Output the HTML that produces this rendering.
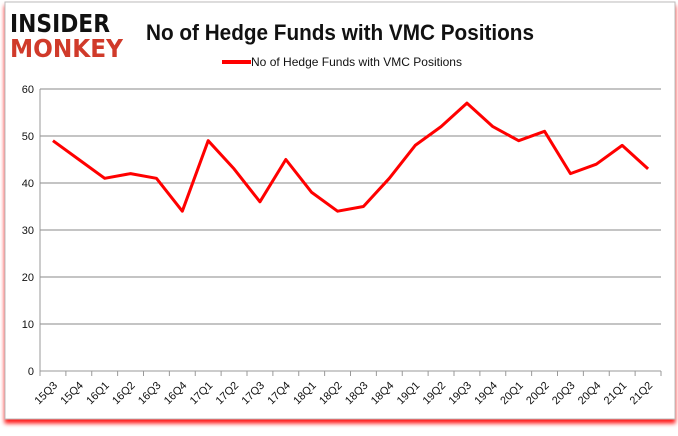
<!DOCTYPE html>
<html><head><meta charset="utf-8"><style>
body{margin:0;background:#fff;width:678px;height:431px;overflow:hidden;font-family:"Liberation Sans",sans-serif}
</style></head><body>
<svg width="678" height="431">
<defs><filter id="sh" x="-5%" y="-5%" width="110%" height="115%"><feDropShadow dx="0" dy="4" stdDeviation="2" flood-color="#f00" flood-opacity="0.9"/></filter></defs>
<rect x="5" y="2" width="670" height="417" fill="#fff" stroke="#bbb" filter="url(#sh)"/>
<g>
<text x="10" y="32" font-size="25" font-weight="bold" fill="#111" font-family="DejaVu Sans" textLength="100" lengthAdjust="spacingAndGlyphs">INSIDER</text>
<text x="10" y="57" font-size="25" font-weight="bold" fill="#d03a2a" font-family="DejaVu Sans" textLength="113" lengthAdjust="spacingAndGlyphs">MONKEY</text>
</g>
<text x="146" y="40" font-size="22" font-weight="bold" fill="#111" textLength="388" lengthAdjust="spacingAndGlyphs">No of Hedge Funds with VMC Positions</text>
<g>
<line x1="222" y1="62" x2="251" y2="62" stroke="#f00" stroke-width="4"/>
<text x="251" y="66" font-size="12" fill="#111" textLength="211" lengthAdjust="spacingAndGlyphs">No of Hedge Funds with VMC Positions</text>
</g>
<g id="grid"></g><g id="axes"></g><g id="series"></g>
</svg>
<script>
const categories=["15Q3","15Q4","16Q1","16Q2","16Q3","16Q4","17Q1","17Q2","17Q3","17Q4","18Q1","18Q2","18Q3","18Q4","19Q1","19Q2","19Q3","19Q4","20Q1","20Q2","20Q3","20Q4","21Q1","21Q2"];
const values=[49,45,41,42,41,34,49,43,36,45,38,34,35,41,48,52,57,52,49,51,42,44,48,43];
const yTicks=[0,10,20,30,40,50,60];
const NS="http://www.w3.org/2000/svg";
const L=40,R=661,T=89,B=371,yMax=60;
const bw=(R-L)/categories.length;
const x=i=>L+bw*(i+0.5);
const y=v=>B-(v/yMax)*(B-T);
function mk(tag,attrs,parent){const e=document.createElementNS(NS,tag);for(const k in attrs)e.setAttribute(k,attrs[k]);parent.appendChild(e);return e;}
const grid=document.getElementById('grid'),axes=document.getElementById('axes'),series=document.getElementById('series');
yTicks.forEach(t=>{
 const g=mk('line',{x1:L,x2:R,y1:y(t),y2:y(t),stroke:t===0?'#999':'#888','stroke-width':1},grid);
 
 
 const lb=mk('text',{x:L-6,y:y(t)+4,'text-anchor':'end','font-size':11,fill:'#111'},axes);
 lb.textContent=t;
 
 
});
const ya=mk('line',{x1:L,x2:L,y1:T,y2:B,stroke:'#999'},axes);


for(let i=0;i<=categories.length;i++){mk('line',{x1:L+bw*i,x2:L+bw*i,y1:B,y2:B+5,stroke:'#999'},axes);}
categories.forEach((c,i)=>{
 const tx=x(i)+5,ty=B+15;
 const lb=mk('text',{x:tx,y:ty,'text-anchor':'end','font-size':11,fill:'#111',transform:`rotate(-45 ${tx} ${ty})`},axes);
 lb.textContent=c;
 
 
});
const p=mk('polyline',{points:values.map((v,i)=>x(i)+','+y(v)).join(' '),fill:'none',stroke:'#f00','stroke-width':3,'stroke-linejoin':'round'},series);


</script>
</body></html>
